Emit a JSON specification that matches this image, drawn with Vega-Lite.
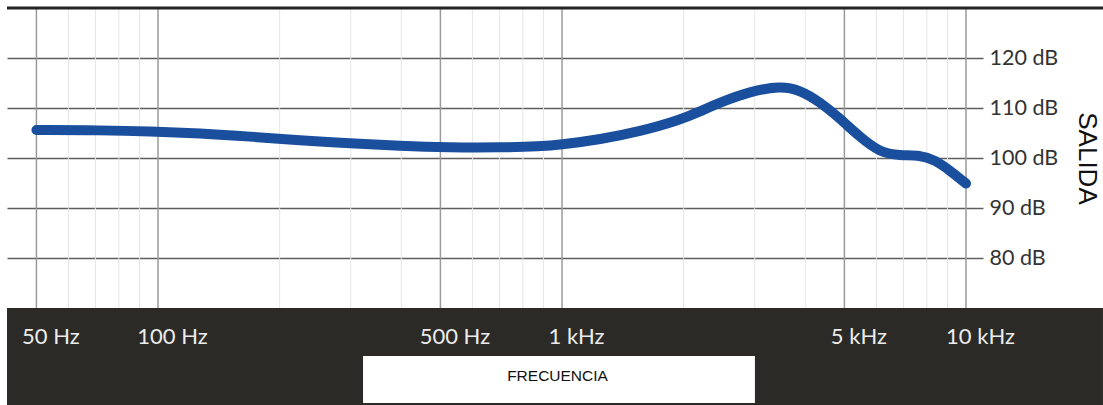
{
  "$schema": "https://vega.github.io/schema/vega-lite/v6.json",
  "width": 959,
  "height": 300,
  "autosize": {"type": "none"},
  "padding": {"left": 7, "top": 8, "right": 137, "bottom": 97},
  "background": "white",
  "config": {"view": {"stroke": null}},
  "datasets": {
    "curve": [
      {"f": 50, "db": 105.6},
      {"f": 72, "db": 105.55},
      {"f": 95.5, "db": 105.35},
      {"f": 127, "db": 104.95},
      {"f": 169, "db": 104.3},
      {"f": 224, "db": 103.5},
      {"f": 299, "db": 102.95},
      {"f": 397, "db": 102.4},
      {"f": 528, "db": 102.1},
      {"f": 702, "db": 102.1},
      {"f": 882, "db": 102.3},
      {"f": 1000, "db": 102.7},
      {"f": 1241, "db": 103.7},
      {"f": 1559, "db": 105.3},
      {"f": 1958, "db": 107.6},
      {"f": 2195, "db": 109.3},
      {"f": 2460, "db": 111.1},
      {"f": 2919, "db": 113.3},
      {"f": 3464, "db": 114.4},
      {"f": 3882, "db": 113.6},
      {"f": 4350, "db": 111.2},
      {"f": 4875, "db": 107.9},
      {"f": 5465, "db": 104.2},
      {"f": 6124, "db": 101.1},
      {"f": 6864, "db": 100.5},
      {"f": 7691, "db": 100.6},
      {"f": 8377, "db": 99.6},
      {"f": 9127, "db": 97.5},
      {"f": 10000, "db": 94.9}
    ],
    "minor": [
      {"f": 60}, {"f": 70}, {"f": 80}, {"f": 90},
      {"f": 200}, {"f": 300}, {"f": 400}, {"f": 600}, {"f": 700}, {"f": 800}, {"f": 900},
      {"f": 2000}, {"f": 3000}, {"f": 4000}, {"f": 6000}, {"f": 7000}, {"f": 8000}, {"f": 9000}
    ],
    "major": [
      {"f": 50}, {"f": 100}, {"f": 500}, {"f": 1000}, {"f": 5000}, {"f": 10000}
    ],
    "one": [{}]
  },
  "layer": [
    {
      "data": {"name": "one"},
      "mark": {"type": "rect", "color": "#2b2a27", "clip": false},
      "encoding": {
        "x": {"datum": 42.28, "type": "quantitative", "scale": {"type": "log", "domain": [42.28, 10000], "nice": false}},
        "x2": {"datum": 21830},
        "y": {"datum": 70, "type": "quantitative", "scale": {"domain": [70, 130], "nice": false, "zero": false}},
        "y2": {"datum": 50.6}
      }
    },
    {
      "data": {"name": "one"},
      "mark": {"type": "rect", "color": "white", "clip": false},
      "encoding": {
        "x": {"datum": 321.7, "type": "quantitative"},
        "x2": {"datum": 3003},
        "y": {"datum": 60.4, "type": "quantitative"},
        "y2": {"datum": 51.0}
      }
    },
    {
      "data": {"name": "minor"},
      "mark": {"type": "rule", "color": "#e6e6e6", "strokeWidth": 1},
      "encoding": {
        "x": {"field": "f", "type": "quantitative"},
        "y": {"datum": 70, "type": "quantitative"},
        "y2": {"datum": 130}
      }
    },
    {
      "data": {"name": "major"},
      "mark": {"type": "rule", "color": "#9a9a9a", "strokeWidth": 1.5},
      "encoding": {
        "x": {"field": "f", "type": "quantitative"},
        "y": {"datum": 70, "type": "quantitative"},
        "y2": {"datum": 130}
      }
    },
    {
      "data": {"name": "one"},
      "mark": {"type": "rule", "color": "#222222", "strokeWidth": 3, "clip": false},
      "encoding": {
        "x": {"datum": 42.28, "type": "quantitative"},
        "x2": {"datum": 21830},
        "y": {"datum": 130, "type": "quantitative"}
      }
    },
    {
      "data": {"name": "curve"},
      "mark": {"type": "line", "color": "#1a4f9e", "strokeWidth": 10, "strokeCap": "round", "strokeJoin": "round", "interpolate": "basis"},
      "encoding": {
        "x": {
          "field": "f", "type": "quantitative",
          "scale": {"type": "log", "domain": [42.28, 10000], "nice": false},
          "axis": {
            "orient": "bottom", "values": [50, 100, 500, 1000, 5000, 10000],
            "labelExpr": "datum.value >= 1000 ? (datum.value/1000) + ' kHz' : datum.value + ' Hz'",
            "grid": false, "domain": false, "ticks": false, "tickSize": 0,
            "labelPadding": 28, "labelBaseline": "middle", "labelAlign": "center", "labelOffset": 14,
            "labelFlush": false, "labelOverlap": false, "labelBound": false,
            "labelColor": "#ececec", "labelFont": "Lato", "labelFontSize": 22,
            "title": "FRECUENCIA", "titleFont": "Liberation Sans", "titleFontSize": 15.5, "titleFontWeight": "normal",
            "titleColor": "#111111", "titleX": 550, "titleY": 67, "titleBaseline": "middle", "titleAlign": "center",
            "zindex": 2
          }
        },
        "y": {
          "field": "db", "type": "quantitative",
          "scale": {"domain": [70, 130], "nice": false, "zero": false},
          "axis": {
            "orient": "right", "values": [80, 90, 100, 110, 120],
            "labelExpr": "datum.value + ' dB'",
            "grid": true, "gridColor": "#5e5e5e", "gridWidth": 1.5,
            "domain": false, "ticks": true, "tickSize": 17, "tickColor": "#5e5e5e", "tickWidth": 1.5,
            "labelPadding": 6, "labelBaseline": "middle", "labelAlign": "left",
            "labelColor": "#333333", "labelFont": "Lato", "labelFontSize": 21.5,
            "labelFlush": false, "labelOverlap": false,
            "title": "SALIDA", "titleFont": "Liberation Sans", "titleFontSize": 26, "titleFontWeight": "normal",
            "titleColor": "#111111", "titleAngle": 90, "titleX": 112, "titleY": 150,
            "titleBaseline": "alphabetic", "titleAlign": "center"
          }
        }
      }
    }
  ]
}
